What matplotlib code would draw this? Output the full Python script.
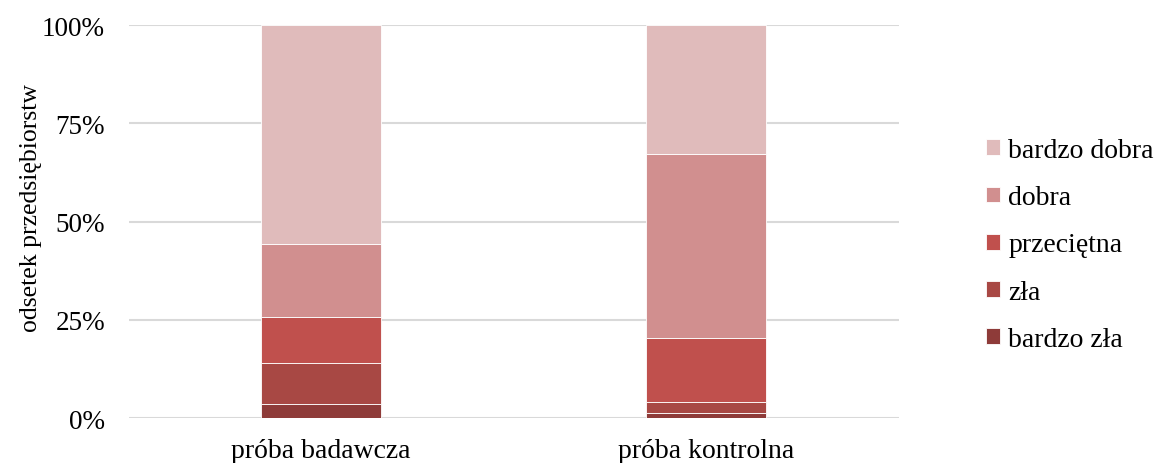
import matplotlib
matplotlib.use("Agg")
import matplotlib.pyplot as plt
import numpy as np

plt.rcParams['font.family'] = ['Liberation Serif', 'DejaVu Serif']

categories = ["próba badawcza", "próba kontrolna"]
series_names = ["bardzo zła", "zła", "przeciętna", "dobra", "bardzo dobra"]
bardzo_zla = [3.6, 1.3]
zla = [10.5, 2.9]
przecietna = [11.7, 16.1]
dobra = [18.6, 47.0]
bardzo_dobra = [55.6, 32.7]
colors = ["#8E3B39", "#A84844", "#C0504D", "#D18F8F", "#E0BBBB"]
y_ticks = [0, 25, 50, 75, 100]
y_tick_labels = ["0%", "25%", "50%", "75%", "100%"]

series = [bardzo_zla, zla, przecietna, dobra, bardzo_dobra]

fig = plt.figure(figsize=(11.54, 4.64), dpi=100)
ax = fig.add_axes([128.5 / 1154, 1 - 419.3 / 464, 770 / 1154, (419.3 - 26) / 464])

x = np.arange(len(categories))
bottom = np.zeros(len(categories))
handles = []
for name, vals, col in zip(series_names, series, colors):
    b = ax.bar(x, vals, width=0.312, bottom=bottom, color=col, label=name,
               edgecolor="white", linewidth=0.6, zorder=3)
    handles.append(b)
    bottom += np.array(vals)

ax.set_xlim(-0.5, 1.5)
ax.set_ylim(0, 100)
ax.set_yticks(y_ticks)
ax.set_yticklabels(y_tick_labels, fontsize=19.5)
ax.set_xticks(x)
ax.set_xticklabels(categories, fontsize=20)
ax.tick_params(axis="y", length=0, pad=17)
ax.tick_params(axis="x", length=0, pad=14)
ax.yaxis.grid(True, color="#D9D9D9", linewidth=1.5, zorder=0)
for s in ax.spines.values():
    s.set_visible(False)
ax.set_ylabel("odsetek przedsiębiorstw", fontsize=18.5)
ax.yaxis.set_label_coords(42 / 1154, 1 - 208 / 464, transform=fig.transFigure)

leg = fig.legend(handles[::-1], series_names[::-1], loc="center left",
                 bbox_to_anchor=(986 / 1154, 1 - 246 / 464),
                 frameon=False, fontsize=20, handlelength=0.5, handleheight=0.5,
                 handletextpad=0.3, labelspacing=0.8, borderaxespad=0,
                 borderpad=0)

fig.savefig("out.png", dpi=100)
